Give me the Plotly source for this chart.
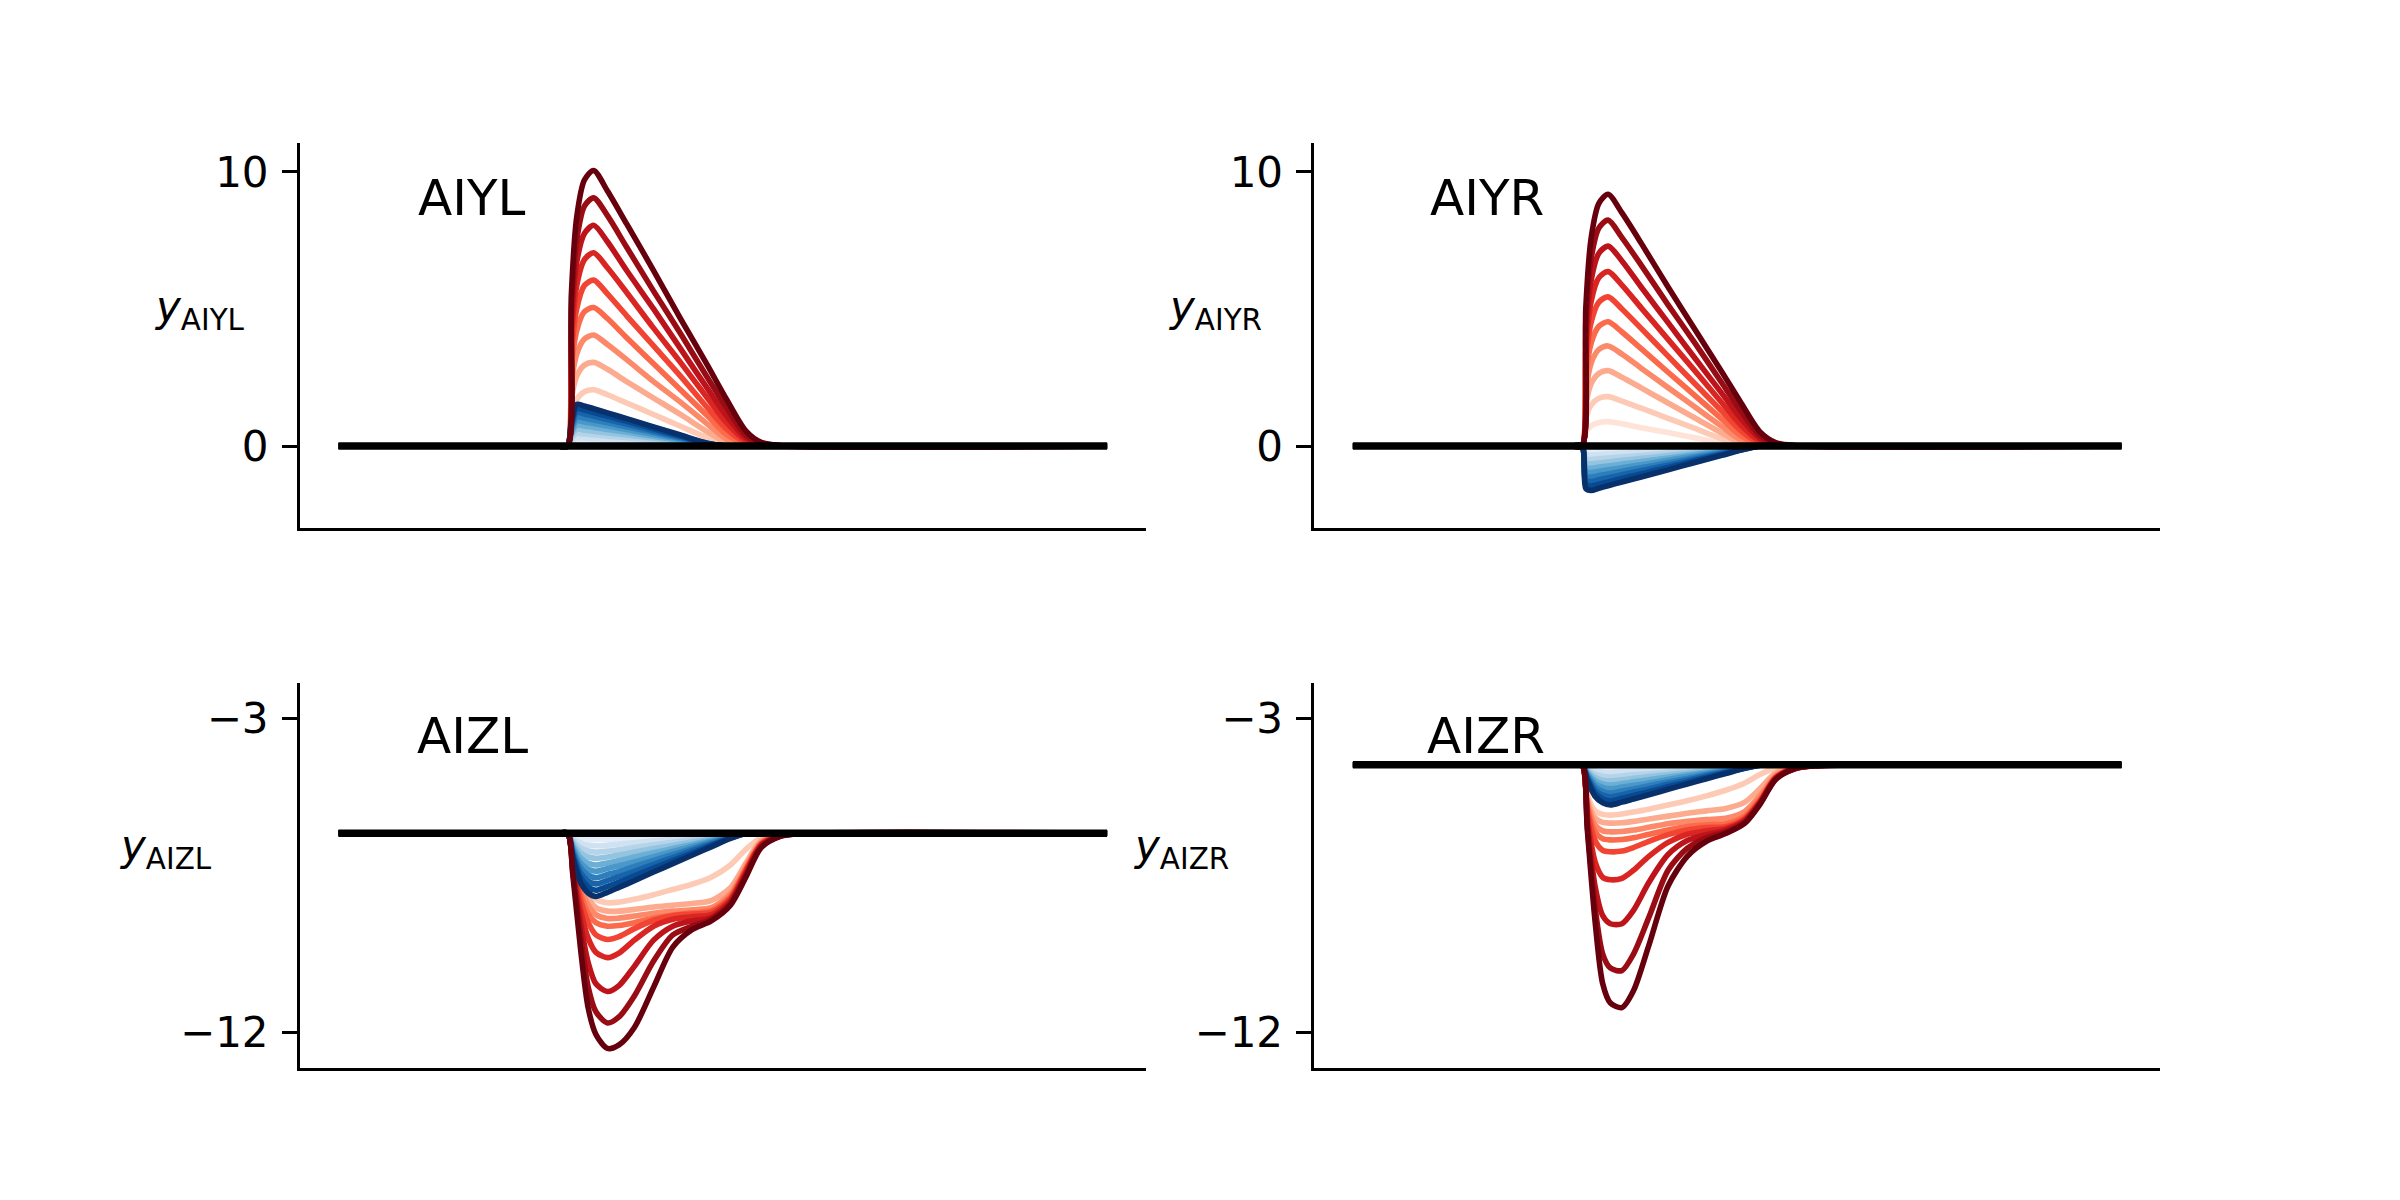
import plotly.graph_objects as go
from plotly.colors import sample_colorscale, sequential

# ---------------- data ----------------
panel_names = ["AIYL", "AIYR", "AIZL", "AIZR"]
stim_levels = [1, 2, 3, 4, 5, 6, 7, 8, 9, 10]   # k = 1..10 (light -> dark)

t_y = [0, 28.5, 29.8, 30.3, 31.0, 32.0, 33.2, 35.0, 37.5, 41.0, 44.5, 48.0, 50.5, 53.0, 55.0, 57.5, 100]
t_z = [0, 28.5, 29.8, 30.5, 31.5, 32.5, 33.5, 35.0, 36.5, 38.5, 41.0, 43.5, 46.0, 48.5, 51.0, 53.0, 55.0, 57.5, 60, 100]

baseline_aiyl = 0.0
baseline_aiyr = 0.0
baseline_aizl = -6.29
baseline_aizr = -4.33

aiyl_red = [
    [0, 0, 0, 0.55, 0.83, 0.97, 1.0, 0.91, 0.76, 0.55, 0.33, 0.12, 0.01, 0, 0, 0, 0],
    [0, 0, 0, 1.15, 1.7, 1.98, 2.05, 1.87, 1.57, 1.15, 0.72, 0.3, 0.05, 0, 0, 0, 0],
    [0, 0, 0, 1.7, 2.55, 2.95, 3.05, 2.8, 2.35, 1.75, 1.15, 0.52, 0.12, 0.02, 0, 0, 0],
    [0, 0, 0, 2.25, 3.35, 3.9, 4.05, 3.7, 3.15, 2.35, 1.6, 0.8, 0.25, 0.04, 0.01, 0, 0],
    [0, 0, 0, 2.8, 4.2, 4.9, 5.05, 4.65, 3.95, 3.0, 2.05, 1.1, 0.42, 0.07, 0.02, 0, 0],
    [0, 0, 0, 3.3, 5.0, 5.85, 6.05, 5.55, 4.75, 3.65, 2.55, 1.4, 0.62, 0.12, 0.03, 0, 0],
    [0, 0, 0, 3.9, 5.85, 6.8, 7.05, 6.5, 5.6, 4.3, 3.05, 1.75, 0.85, 0.2, 0.05, 0, 0],
    [0, 0, 0, 4.4, 6.7, 7.75, 8.05, 7.45, 6.4, 5.0, 3.55, 2.1, 1.1, 0.3, 0.07, 0, 0],
    [0, 0, 0, 4.95, 7.5, 8.75, 9.05, 8.4, 7.25, 5.65, 4.1, 2.5, 1.4, 0.4, 0.1, 0.01, 0],
    [0, 0, 0, 5.5, 8.35, 9.7, 10.05, 9.3, 8.1, 6.4, 4.65, 2.95, 1.7, 0.55, 0.13, 0.02, 0],
]
aiyl_blue = [
    [0, 0, 0, 0.09, 0.15, 0.15, 0.14, 0.12, 0.1, 0.07, 0.04, 0.01, 0, 0, 0, 0, 0],
    [0, 0, 0, 0.18, 0.3, 0.29, 0.27, 0.24, 0.2, 0.14, 0.08, 0.02, 0, 0, 0, 0, 0],
    [0, 0, 0, 0.27, 0.46, 0.44, 0.41, 0.36, 0.3, 0.21, 0.12, 0.03, 0, 0, 0, 0, 0],
    [0, 0, 0, 0.36, 0.61, 0.58, 0.54, 0.48, 0.4, 0.28, 0.16, 0.04, 0, 0, 0, 0, 0],
    [0, 0, 0, 0.45, 0.76, 0.73, 0.68, 0.6, 0.5, 0.35, 0.2, 0.05, 0, 0, 0, 0, 0],
    [0, 0, 0, 0.54, 0.91, 0.88, 0.82, 0.73, 0.6, 0.42, 0.24, 0.06, 0, 0, 0, 0, 0],
    [0, 0, 0, 0.63, 1.06, 1.02, 0.95, 0.85, 0.7, 0.49, 0.28, 0.07, 0, 0, 0, 0, 0],
    [0, 0, 0, 0.72, 1.22, 1.17, 1.09, 0.97, 0.8, 0.56, 0.32, 0.08, 0, 0, 0, 0, 0],
    [0, 0, 0, 0.81, 1.37, 1.31, 1.22, 1.09, 0.9, 0.63, 0.36, 0.09, 0, 0, 0, 0, 0],
    [0, 0, 0, 0.9, 1.52, 1.46, 1.36, 1.21, 1.0, 0.7, 0.4, 0.1, 0, 0, 0, 0, 0],
]

aiyr_red = [
    [0, 0, 0, 0.49, 0.74, 0.86, 0.89, 0.81, 0.67, 0.49, 0.3, 0.11, 0.01, 0, 0, 0, 0],
    [0, 0, 0, 1.0, 1.5, 1.74, 1.8, 1.64, 1.38, 1.01, 0.64, 0.26, 0.04, 0, 0, 0, 0],
    [0, 0, 0, 1.51, 2.28, 2.65, 2.75, 2.51, 2.12, 1.57, 1.02, 0.47, 0.1, 0.01, 0, 0, 0],
    [0, 0, 0, 2.0, 3.03, 3.52, 3.65, 3.35, 2.84, 2.13, 1.42, 0.71, 0.22, 0.03, 0, 0, 0],
    [0, 0, 0, 2.5, 3.76, 4.37, 4.53, 4.16, 3.55, 2.69, 1.84, 0.98, 0.37, 0.06, 0.01, 0, 0],
    [0, 0, 0, 3.0, 4.52, 5.25, 5.44, 5.0, 4.29, 3.28, 2.27, 1.27, 0.55, 0.1, 0.02, 0, 0],
    [0, 0, 0, 3.5, 5.28, 6.14, 6.36, 5.87, 5.04, 3.89, 2.74, 1.58, 0.76, 0.18, 0.04, 0, 0],
    [0, 0, 0, 4.0, 6.05, 7.03, 7.29, 6.75, 5.8, 4.5, 3.2, 1.92, 1.0, 0.27, 0.06, 0, 0],
    [0, 0, 0, 4.55, 6.85, 7.95, 8.24, 7.6, 6.6, 5.15, 3.75, 2.3, 1.27, 0.37, 0.09, 0.01, 0],
    [0, 0, 0, 5.05, 7.6, 8.85, 9.18, 8.5, 7.4, 5.8, 4.25, 2.7, 1.57, 0.5, 0.12, 0.02, 0],
]
aiyr_blue = [
    [0, 0, 0, -0.16, -0.16, -0.15, -0.15, -0.13, -0.11, -0.09, -0.06, -0.03, -0.02, 0, 0, 0, 0],
    [0, 0, 0, -0.31, -0.32, -0.31, -0.29, -0.26, -0.23, -0.17, -0.12, -0.07, -0.03, 0, 0, 0, 0],
    [0, 0, 0, -0.47, -0.49, -0.46, -0.44, -0.39, -0.34, -0.26, -0.18, -0.1, -0.05, 0, 0, 0, 0],
    [0, 0, 0, -0.62, -0.65, -0.62, -0.58, -0.52, -0.45, -0.35, -0.24, -0.14, -0.06, 0, 0, 0, 0],
    [0, 0, 0, -0.78, -0.81, -0.77, -0.73, -0.66, -0.57, -0.44, -0.3, -0.17, -0.08, 0, 0, 0, 0],
    [0, 0, 0, -0.93, -0.97, -0.92, -0.87, -0.79, -0.68, -0.52, -0.36, -0.2, -0.09, 0, 0, 0, 0],
    [0, 0, 0, -1.09, -1.13, -1.08, -1.02, -0.92, -0.79, -0.61, -0.42, -0.24, -0.1, 0, 0, 0, 0],
    [0, 0, 0, -1.24, -1.3, -1.23, -1.16, -1.05, -0.9, -0.7, -0.48, -0.27, -0.12, 0, 0, 0, 0],
    [0, 0, 0, -1.4, -1.46, -1.39, -1.31, -1.18, -1.02, -0.78, -0.54, -0.31, -0.14, 0, 0, 0, 0],
    [0, 0, 0, -1.55, -1.62, -1.54, -1.45, -1.31, -1.13, -0.87, -0.6, -0.34, -0.15, 0, 0, 0, 0],
]

aizl_red = [
    [-6.29, -6.29, -6.29, -6.9, -7.4, -7.6, -7.63, -7.52, -7.42, -7.28, -7.1, -6.93, -6.75, -6.57, -6.4, -6.3, -6.29, -6.29, -6.29, -6.29],
    [-6.29, -6.29, -6.29, -6.85, -7.5, -7.95, -8.18, -8.28, -8.26, -8.18, -8.05, -7.9, -7.75, -7.55, -7.2, -6.75, -6.42, -6.31, -6.29, -6.29],
    [-6.29, -6.29, -6.29, -6.9, -7.65, -8.15, -8.42, -8.52, -8.52, -8.47, -8.4, -8.35, -8.3, -8.22, -7.85, -7.15, -6.5, -6.32, -6.3, -6.29],
    [-6.29, -6.29, -6.29, -6.95, -7.8, -8.35, -8.62, -8.73, -8.72, -8.66, -8.58, -8.52, -8.48, -8.42, -8.02, -7.26, -6.55, -6.33, -6.3, -6.29],
    [-6.29, -6.29, -6.29, -7.0, -8.0, -8.6, -8.85, -8.95, -8.93, -8.85, -8.72, -8.63, -8.57, -8.5, -8.1, -7.32, -6.58, -6.34, -6.3, -6.29],
    [-6.29, -6.29, -6.29, -7.1, -8.2, -8.85, -9.2, -9.33, -9.25, -9.02, -8.78, -8.65, -8.6, -8.55, -8.15, -7.35, -6.6, -6.35, -6.3, -6.29],
    [-6.29, -6.29, -6.29, -7.2, -8.5, -9.3, -9.7, -9.85, -9.72, -9.35, -8.95, -8.75, -8.68, -8.62, -8.2, -7.4, -6.62, -6.35, -6.3, -6.29],
    [-6.29, -6.29, -6.29, -7.3, -8.85, -10.0, -10.6, -10.82, -10.65, -10.1, -9.35, -8.95, -8.8, -8.7, -8.25, -7.45, -6.65, -6.36, -6.3, -6.29],
    [-6.29, -6.29, -6.29, -7.4, -9.2, -10.7, -11.4, -11.72, -11.55, -10.95, -9.95, -9.2, -8.95, -8.75, -8.3, -7.5, -6.68, -6.37, -6.3, -6.29],
    [-6.29, -6.29, -6.29, -7.5, -9.6, -11.3, -12.05, -12.45, -12.35, -11.85, -10.7, -9.55, -9.05, -8.8, -8.35, -7.55, -6.7, -6.38, -6.3, -6.29],
]
aizl_blue = [
    [-6.29, -6.29, -6.29, -6.36, -6.43, -6.46, -6.47, -6.46, -6.45, -6.43, -6.4, -6.38, -6.35, -6.33, -6.31, -6.29, -6.29, -6.29, -6.29, -6.29],
    [-6.29, -6.29, -6.29, -6.43, -6.57, -6.63, -6.65, -6.63, -6.6, -6.56, -6.51, -6.46, -6.42, -6.37, -6.32, -6.29, -6.29, -6.29, -6.29, -6.29],
    [-6.29, -6.29, -6.29, -6.5, -6.71, -6.8, -6.83, -6.8, -6.76, -6.7, -6.62, -6.55, -6.48, -6.41, -6.34, -6.29, -6.29, -6.29, -6.29, -6.29],
    [-6.29, -6.29, -6.29, -6.57, -6.85, -6.97, -7.01, -6.97, -6.91, -6.83, -6.73, -6.64, -6.54, -6.45, -6.35, -6.29, -6.29, -6.29, -6.29, -6.29],
    [-6.29, -6.29, -6.29, -6.65, -7.0, -7.15, -7.2, -7.14, -7.07, -6.97, -6.85, -6.73, -6.61, -6.49, -6.37, -6.29, -6.29, -6.29, -6.29, -6.29],
    [-6.29, -6.29, -6.29, -6.72, -7.14, -7.32, -7.38, -7.3, -7.22, -7.11, -6.96, -6.81, -6.67, -6.52, -6.38, -6.3, -6.29, -6.29, -6.29, -6.29],
    [-6.29, -6.29, -6.29, -6.79, -7.28, -7.49, -7.56, -7.47, -7.38, -7.24, -7.07, -6.9, -6.73, -6.56, -6.4, -6.3, -6.29, -6.29, -6.29, -6.29],
    [-6.29, -6.29, -6.29, -6.86, -7.42, -7.66, -7.74, -7.64, -7.53, -7.38, -7.18, -6.99, -6.79, -6.6, -6.41, -6.3, -6.29, -6.29, -6.29, -6.29],
    [-6.29, -6.29, -6.29, -6.93, -7.56, -7.83, -7.92, -7.81, -7.69, -7.51, -7.29, -7.07, -6.86, -6.64, -6.43, -6.3, -6.29, -6.29, -6.29, -6.29],
    [-6.29, -6.29, -6.29, -7.0, -7.7, -8.0, -8.1, -7.98, -7.84, -7.65, -7.4, -7.16, -6.92, -6.68, -6.44, -6.3, -6.29, -6.29, -6.29, -6.29],
]

aizr_red = [
    [-4.33, -4.33, -4.33, -4.8, -5.05, -5.1, -5.1, -5.03, -4.97, -4.9, -4.8, -4.7, -4.6, -4.5, -4.4, -4.34, -4.33, -4.33, -4.33, -4.33],
    [-4.33, -4.33, -4.33, -5.2, -5.65, -5.75, -5.77, -5.74, -5.68, -5.6, -5.48, -5.36, -5.22, -5.06, -4.85, -4.6, -4.42, -4.35, -4.33, -4.33],
    [-4.33, -4.33, -4.33, -5.3, -5.85, -5.98, -6.0, -5.99, -5.95, -5.88, -5.8, -5.72, -5.65, -5.58, -5.4, -5.0, -4.56, -4.38, -4.34, -4.33],
    [-4.33, -4.33, -4.33, -5.4, -6.05, -6.22, -6.25, -6.24, -6.2, -6.12, -6.02, -5.95, -5.9, -5.86, -5.66, -5.2, -4.64, -4.4, -4.35, -4.33],
    [-4.33, -4.33, -4.33, -5.5, -6.25, -6.45, -6.48, -6.47, -6.42, -6.32, -6.2, -6.1, -6.05, -6.02, -5.8, -5.3, -4.68, -4.41, -4.35, -4.33],
    [-4.33, -4.33, -4.33, -5.6, -6.5, -6.78, -6.82, -6.8, -6.7, -6.52, -6.33, -6.2, -6.13, -6.1, -5.86, -5.35, -4.7, -4.42, -4.35, -4.33],
    [-4.33, -4.33, -4.33, -5.8, -7.1, -7.55, -7.62, -7.58, -7.35, -6.95, -6.55, -6.32, -6.22, -6.15, -5.9, -5.38, -4.71, -4.43, -4.36, -4.33],
    [-4.33, -4.33, -4.33, -5.95, -7.8, -8.65, -8.88, -8.88, -8.5, -7.7, -6.9, -6.5, -6.33, -6.2, -5.93, -5.4, -4.72, -4.43, -4.36, -4.33],
    [-4.33, -4.33, -4.33, -6.1, -8.4, -9.75, -10.15, -10.22, -9.75, -8.7, -7.35, -6.72, -6.42, -6.25, -5.97, -5.42, -4.74, -4.44, -4.36, -4.33],
    [-4.33, -4.33, -4.33, -6.2, -8.8, -10.6, -11.15, -11.28, -10.8, -9.5, -7.8, -6.95, -6.52, -6.3, -6.0, -5.45, -4.75, -4.45, -4.36, -4.33],
]
aizr_blue = [
    [-4.33, -4.33, -4.33, -4.38, -4.42, -4.44, -4.45, -4.44, -4.43, -4.42, -4.4, -4.39, -4.37, -4.36, -4.34, -4.33, -4.33, -4.33, -4.33, -4.33],
    [-4.33, -4.33, -4.33, -4.42, -4.51, -4.55, -4.56, -4.54, -4.53, -4.5, -4.47, -4.44, -4.41, -4.38, -4.35, -4.33, -4.33, -4.33, -4.33, -4.33],
    [-4.33, -4.33, -4.33, -4.47, -4.6, -4.66, -4.68, -4.65, -4.62, -4.59, -4.54, -4.5, -4.45, -4.41, -4.36, -4.33, -4.33, -4.33, -4.33, -4.33],
    [-4.33, -4.33, -4.33, -4.51, -4.69, -4.77, -4.79, -4.76, -4.72, -4.67, -4.61, -4.55, -4.49, -4.43, -4.37, -4.33, -4.33, -4.33, -4.33, -4.33],
    [-4.33, -4.33, -4.33, -4.56, -4.78, -4.88, -4.91, -4.87, -4.82, -4.76, -4.68, -4.61, -4.53, -4.46, -4.38, -4.33, -4.33, -4.33, -4.33, -4.33],
    [-4.33, -4.33, -4.33, -4.6, -4.87, -4.98, -5.02, -4.97, -4.92, -4.85, -4.75, -4.66, -4.57, -4.48, -4.39, -4.33, -4.33, -4.33, -4.33, -4.33],
    [-4.33, -4.33, -4.33, -4.65, -4.96, -5.09, -5.14, -5.08, -5.02, -4.93, -4.82, -4.72, -4.61, -4.51, -4.4, -4.33, -4.33, -4.33, -4.33, -4.33],
    [-4.33, -4.33, -4.33, -4.69, -5.05, -5.2, -5.25, -5.19, -5.11, -5.02, -4.89, -4.77, -4.65, -4.53, -4.41, -4.34, -4.33, -4.33, -4.33, -4.33],
    [-4.33, -4.33, -4.33, -4.74, -5.14, -5.31, -5.37, -5.29, -5.21, -5.1, -4.96, -4.83, -4.69, -4.56, -4.42, -4.34, -4.33, -4.33, -4.33, -4.33],
    [-4.33, -4.33, -4.33, -4.78, -5.23, -5.42, -5.48, -5.4, -5.31, -5.19, -5.03, -4.88, -4.73, -4.58, -4.43, -4.34, -4.33, -4.33, -4.33, -4.33],
]

ytick_top_vals = [0, 10]
ytick_top_text = ["0", "10"]
ytick_bot_vals = [-12, -3]
ytick_bot_text = ["\u221212", "\u22123"]

# ---------------- styling ----------------
FONT = "DejaVu Sans"
W, H = 2400, 1200
CURVE_W = 5.6
BASE_W = 7.5
red_colors = sample_colorscale(sequential.Reds, [k / 10 for k in stim_levels])
blue_colors = sample_colorscale(sequential.Blues, [k / 10 for k in stim_levels])

panels = [
    dict(name="AIYL", ax="", t=t_y, red=aiyl_red, blue=aiyl_blue, base=baseline_aiyl),
    dict(name="AIYR", ax="2", t=t_y, red=aiyr_red, blue=aiyr_blue, base=baseline_aiyr),
    dict(name="AIZL", ax="3", t=t_z, red=aizl_red, blue=aizl_blue, base=baseline_aizl),
    dict(name="AIZR", ax="4", t=t_z, red=aizr_red, blue=aizr_blue, base=baseline_aizr),
]

fig = go.Figure()
for p in panels:
    xa, ya = "x" + p["ax"], "y" + p["ax"]
    for i in range(len(stim_levels)):
        fig.add_trace(go.Scatter(x=p["t"], y=p["blue"][i], mode="lines", xaxis=xa, yaxis=ya,
                                 line=dict(color=blue_colors[i], width=CURVE_W, shape="spline", smoothing=0.8),
                                 showlegend=False, hoverinfo="skip"))
        fig.add_trace(go.Scatter(x=p["t"], y=p["red"][i], mode="lines", xaxis=xa, yaxis=ya,
                                 line=dict(color=red_colors[i], width=CURVE_W, shape="spline", smoothing=0.8),
                                 showlegend=False, hoverinfo="skip"))
    fig.add_trace(go.Scatter(x=[p["t"][0], p["t"][-1]], y=[p["base"], p["base"]], mode="lines",
                             xaxis=xa, yaxis=ya, line=dict(color="black", width=BASE_W),
                             showlegend=False, hoverinfo="skip"))

xdom = [[0.125, 0.4773], [0.5477, 0.9]]
ydom = [[0.56, 0.8808], [0.1103, 0.4311]]
layout_axes = {}
for idx, p in enumerate(panels):
    r, c = idx // 2, idx % 2
    suffix = p["ax"]
    xkey = "xaxis" + suffix
    ykey = "yaxis" + suffix
    layout_axes[xkey] = dict(domain=xdom[c], anchor="y" + suffix, range=[-5, 105],
                             showline=True, linecolor="black", linewidth=3,
                             ticks="", showticklabels=False, showgrid=False, zeroline=False)
    if r == 0:
        yr, tv, tt = [-2.99, 11.05], ytick_top_vals, ytick_top_text
    else:
        yr, tv, tt = [-13.0, -1.98], ytick_bot_vals, ytick_bot_text
    layout_axes[ykey] = dict(domain=ydom[r], anchor="x" + suffix, range=yr,
                             showline=True, linecolor="black", linewidth=3,
                             ticks="outside", ticklen=15, tickwidth=3, tickcolor="black",
                             tickvals=tv, ticktext=tt, ticklabelstandoff=5,
                             tickfont=dict(family=FONT, size=42, color="black"),
                             showgrid=False, zeroline=False)

annotations = []
title_pos = {"AIYL": (416 / W, 1 - 198 / H), "AIYR": (1428 / W, 1 - 198 / H),
             "AIZL": (415 / W, 1 - 736 / H), "AIZR": (1425 / W, 1 - 736 / H)}
label_pos = {"AIYL": (247 / W, 1 - 309 / H), "AIYR": (1264 / W, 1 - 309 / H),
             "AIZL": (214 / W, 1 - 848 / H), "AIZR": (1231 / W, 1 - 848 / H)}
for name in panel_names:
    x, y = title_pos[name]
    annotations.append(dict(text=name, x=x, y=y, xref="paper", yref="paper",
                            xanchor="left", yanchor="middle", showarrow=False,
                            font=dict(family=FONT, size=50, color="black")))
    x, y = label_pos[name]
    annotations.append(dict(text="<i>y</i><sub>" + name + "</sub>", x=x, y=y,
                            xref="paper", yref="paper", xanchor="right", yanchor="middle",
                            showarrow=False, font=dict(family=FONT, size=42, color="black")))

fig.update_layout(width=W, height=H, margin=dict(l=0, r=0, t=0, b=0),
                  paper_bgcolor="white", plot_bgcolor="white",
                  annotations=annotations, **layout_axes)

fig.write_html("out.html", config={"displayModeBar": False},
               post_script="document.body.style.margin='0px';")
